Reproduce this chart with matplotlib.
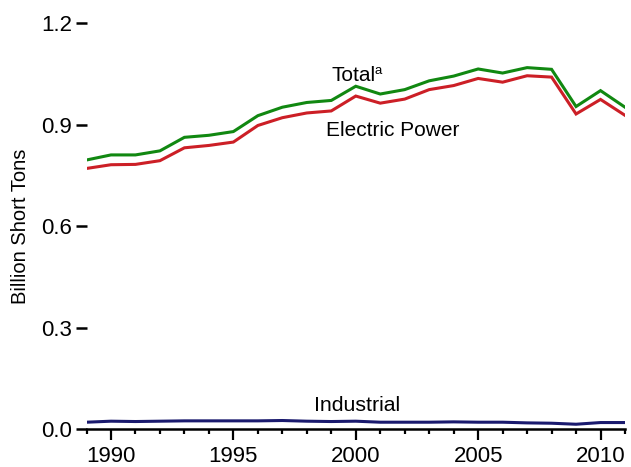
import matplotlib
matplotlib.use("Agg")
import matplotlib.pyplot as plt
from matplotlib.ticker import MultipleLocator

years = list(range(1989, 2012))
total = [0.796, 0.811, 0.811, 0.823, 0.863, 0.869, 0.880, 0.927, 0.952, 0.966,
         0.972, 1.014, 0.991, 1.004, 1.030, 1.044, 1.065, 1.053, 1.069, 1.064,
         0.954, 1.001, 0.952]
electric = [0.771, 0.782, 0.783, 0.794, 0.832, 0.839, 0.849, 0.898, 0.921, 0.935,
            0.941, 0.985, 0.964, 0.976, 1.004, 1.016, 1.037, 1.026, 1.045, 1.041,
            0.932, 0.975, 0.928]
industrial = [0.021, 0.024, 0.023, 0.024, 0.025, 0.025, 0.025, 0.025, 0.026, 0.024,
              0.023, 0.024, 0.021, 0.021, 0.021, 0.022, 0.021, 0.021, 0.019, 0.018,
              0.015, 0.020, 0.020]
yticks = [0.0, 0.3, 0.6, 0.9, 1.2]
xticks = [1990, 1995, 2000, 2005, 2010]

plt.rcParams['font.family'] = ['Liberation Sans', 'DejaVu Sans']

fig = plt.figure(figsize=(6.31, 4.67), dpi=100)
ax = fig.add_axes([0.1371, 0.0807, 0.8534, 0.8694])

ax.plot(years, total, color='#118811', lw=2.2, solid_joinstyle='miter')
ax.plot(years, electric, color='#cc1f26', lw=2.2, solid_joinstyle='miter')
ax.plot(years, industrial, color='#1a1a6e', lw=2.2)

ax.set_xlim(1989, 2011)
ax.set_ylim(0, 1.2)
ax.set_xticks(xticks)
ax.set_xticklabels([str(x) for x in xticks])
ax.xaxis.set_minor_locator(MultipleLocator(1))
ax.set_yticks(yticks)
ax.set_yticklabels([f"{v:.1f}" for v in yticks])

for s in ['top', 'right', 'left']:
    ax.spines[s].set_visible(False)
ax.spines['bottom'].set_linewidth(1.8)
ax.tick_params(axis='x', which='major', direction='out', length=8, width=1.6,
               labelsize=16, pad=4)
ax.tick_params(axis='x', which='minor', direction='out', length=3.8, width=1.6)
ax.tick_params(axis='y', which='major', direction='out', length=8, width=1.8,
               labelsize=16, pad=2.5)

ax.set_ylabel("Billion Short Tons", fontsize=14.5, labelpad=8)

ax.text(1999.0, 1.046, "Total", fontsize=15, va='center', ha='left')
ax.text(2000.75, 1.058, "a", fontsize=9.5, va='center', ha='left')
ax.text(1998.8, 0.883, "Electric Power", fontsize=15, va='center', ha='left')
ax.text(2000.06, 0.071, "Industrial", fontsize=15.3, va='center', ha='center')

fig.savefig("out.png", dpi=100)
